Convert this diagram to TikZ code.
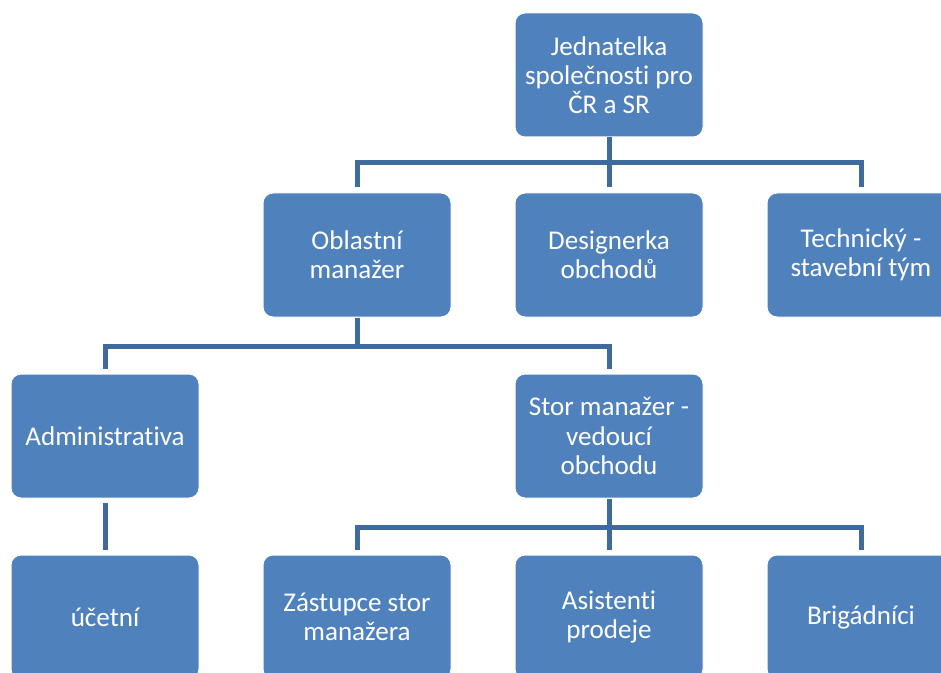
\documentclass[tikz,border=0pt]{standalone}
\usepackage{fontspec}
\setmainfont{Carlito}[Ligatures=NoCommon]
\definecolor{boxfill}{HTML}{4F81BD}
\definecolor{linecol}{RGB}{62,106,158}
\begin{document}
\begin{tikzpicture}[x=0.75pt,y=-0.75pt,
  orgbox/.style={draw=white, line width=0.75pt, fill=boxfill, rounded corners=7.5pt,
    minimum width=141pt, minimum height=93pt, text=white, align=center,
    font=\fontsize{20.3}{21.9}\selectfont, inner sep=0pt},
  conn/.style={draw=linecol, line width=3.75pt}]
\clip (0,0) rectangle (941,673);
\fill[white] (0,0) rectangle (941,673);
% nodes
\node[orgbox] (j)  at (609,75)  {Jednatelka\\společnosti pro\\ČR a SR};
\node[orgbox] (om) at (357,255) {Oblastní\\manažer};
\node[orgbox] (d)  at (609,255) {Designerka\\obchodů};
\node[orgbox] (tt) at (861,255) {Technický -\\stavební tým};
\node[orgbox] (ad) at (105,436) {Administrativa};
\node[orgbox] (sm) at (609,436) {Stor manažer -\\vedoucí\\obchodu};
\node[orgbox] (uc) at (105,617) {účetní};
\node[orgbox] (zs) at (357,617) {Zástupce stor\\manažera};
\node[orgbox] (as) at (609,617) {Asistenti\\prodeje};
\node[orgbox] (br) at (861,617) {Brigádníci};
% bus coordinates
\coordinate (b1) at (609,163);
\coordinate (b2) at (357,346);
\coordinate (b3) at (609,527);
% connectors
\draw[conn] (j.south) -- (b1);
\draw[conn] ([yshift=3.75pt]om.north) |- (b1) -| ([yshift=3.75pt]tt.north);
\draw[conn] (b1) -- ([yshift=3.75pt]d.north);
\draw[conn] (om.south) -- (b2);
\draw[conn] ([yshift=3.75pt]ad.north) |- (b2) -| ([yshift=3.75pt]sm.north);
\draw[conn] ([yshift=-3pt]ad.south) -- ([yshift=3.75pt]uc.north);
\draw[conn] (sm.south) -- (b3);
\draw[conn] ([yshift=3.75pt]zs.north) |- (b3) -| ([yshift=3.75pt]br.north);
\draw[conn] (b3) -- ([yshift=3.75pt]as.north);
\end{tikzpicture}
\end{document}
